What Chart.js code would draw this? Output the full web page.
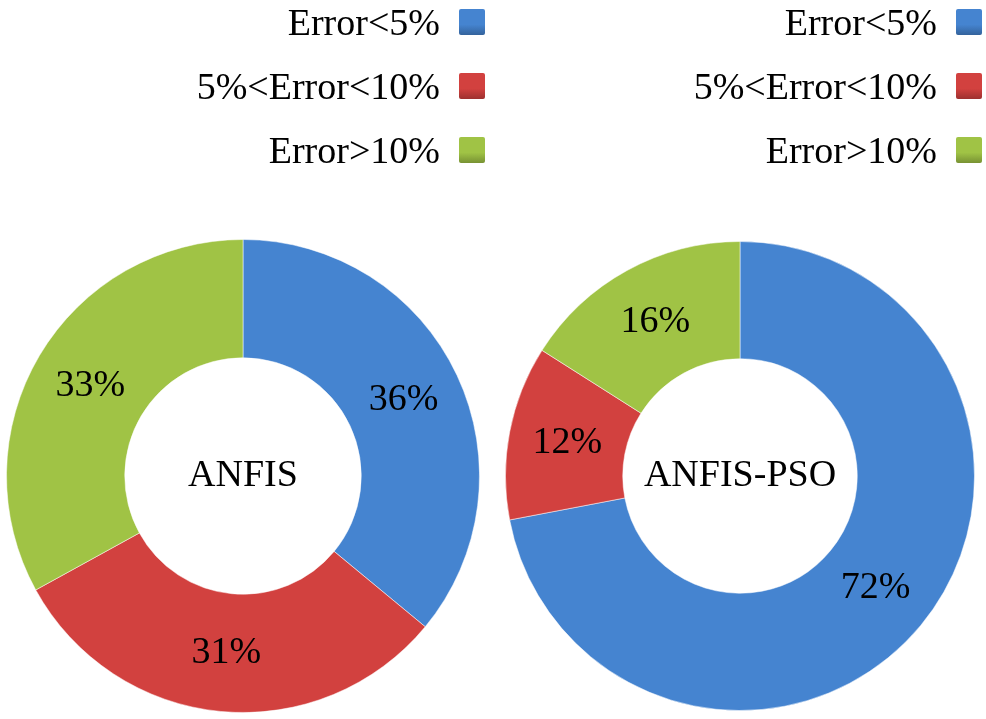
<!DOCTYPE html>
<html>
<head>
  <meta charset="UTF-8">
  <title>ANFIS vs ANFIS-PSO</title>
  <script src="https://cdn.jsdelivr.net/npm/chart.js@4.4.1/dist/chart.umd.min.js"></script>
  <style>
    body { margin: 0; background: #fff; }
    #wrap { position: relative; width: 986px; height: 719px; overflow: hidden; }
    canvas { position: absolute; top: 0; }
    .legend { position: absolute; top: -10px; font-family: "Liberation Serif", "Times New Roman", serif; font-size: 38px; color: #000; }
    .legend .row { display: flex; justify-content: flex-end; align-items: center; height: 64px; }
    .legend .box { width: 26px; height: 26px; margin-left: 19px; border-radius: 2px; }
  </style>
</head>
<body>
<div id="wrap">
  <canvas id="left" width="493" height="719" style="left:0"></canvas>
  <canvas id="right" width="493" height="719" style="left:493px"></canvas>
  <div class="legend" id="legendLeft" style="right:501px"></div>
  <div class="legend" id="legendRight" style="right:4px"></div>
</div>

<script>
  var categories = ['Error<5%', '5%<Error<10%', 'Error>10%'];
  var models = ['ANFIS', 'ANFIS-PSO'];
  var anfisValues = [36, 31, 33];
  var anfisPsoValues = [72, 12, 16];
  var colors = ['#4584d0', '#d2413f', '#a0c345'];

  // percentage labels in the ring + model name in the hole
  var ringText = {
    id: 'ringText',
    afterDatasetsDraw: function (chart) {
      var ctx = chart.ctx;
      var meta = chart.getDatasetMeta(0);
      var data = chart.data.datasets[0].data;
      ctx.save();
      ctx.fillStyle = '#000';
      ctx.textAlign = 'center';
      ctx.textBaseline = 'middle';
      ctx.font = '38px "Liberation Serif", "Times New Roman", serif';
      meta.data.forEach(function (arc, i) {
        var p = arc.tooltipPosition();
        ctx.fillText(data[i] + '%', p.x, p.y);
      });
      var a = meta.data[0];
      ctx.fillText(chart.options.plugins.centerName, a.x, a.y);
      ctx.restore();
    }
  };

  function makeDonut(id, name, values, pad) {
    return new Chart(document.getElementById(id), {
      type: 'doughnut',
      data: {
        labels: categories,
        datasets: [{
          data: values,
          backgroundColor: colors,
          borderColor: 'rgba(255,255,255,0.5)',
          borderWidth: 1
        }]
      },
      options: {
        responsive: false,
        animation: false,
        cutout: '50%',
        layout: { padding: pad },
        plugins: {
          legend: { display: false },
          tooltip: { enabled: false },
          centerName: name
        }
      },
      plugins: [ringText]
    });
  }

  makeDonut('left', models[0], anfisValues, { left: 6, right: 13, top: 239, bottom: 6 });
  makeDonut('right', models[1], anfisPsoValues, { left: 12, right: 11, top: 241, bottom: 8 });

  function buildLegend(elId) {
    var el = document.getElementById(elId);
    categories.forEach(function (c, i) {
      var row = document.createElement('div');
      row.className = 'row';
      var t = document.createElement('span');
      t.textContent = c;
      var b = document.createElement('span');
      b.className = 'box';
      b.style.background = 'linear-gradient(' + colors[i] + ', ' + colors[i] + ' 60%, rgba(0,0,0,0.25))';
      b.style.backgroundColor = colors[i];
      row.appendChild(t);
      row.appendChild(b);
      el.appendChild(row);
    });
  }
  buildLegend('legendLeft');
  buildLegend('legendRight');
</script>
</body>
</html>
